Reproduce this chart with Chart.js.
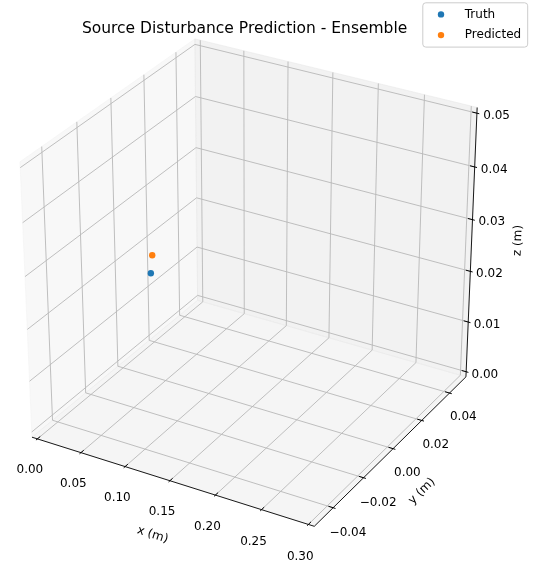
<!DOCTYPE html>
<html lang="en">
<head>
<meta charset="UTF-8">
<title>Source Disturbance Prediction - Ensemble</title>
<script src="https://cdn.jsdelivr.net/npm/chart.js@4"></script>
<style>
  html, body { margin: 0; padding: 0; background: #ffffff; }
  #chart { display: block; }
</style>
</head>
<body>
<canvas id="chart" width="539" height="569"></canvas>
<script>
// ---- data (metres) ----
const seriesLabels = ['Truth', 'Predicted'];
const seriesColors = ['#1f77b4', '#ff7f0e'];
const truthXYZ = [0.035, 0.000, 0.0196];
const predictedXYZ = [0.037, 0.000, 0.0232];

const xLimits = [0.0, 0.3];
const yLimits = [-0.05, 0.05];
const zLimits = [0.0, 0.05];
const xTicks = [0.00, 0.05, 0.10, 0.15, 0.20, 0.25, 0.30];
const yTicks = [-0.04, -0.02, 0.00, 0.02, 0.04];
const zTicks = [0.00, 0.01, 0.02, 0.03, 0.04, 0.05];
const xTickLabels = ['0.00', '0.05', '0.10', '0.15', '0.20', '0.25', '0.30'];
const yTickLabels = ['\u22120.04', '\u22120.02', '0.00', '0.02', '0.04'];
const zTickLabels = ['0.00', '0.01', '0.02', '0.03', '0.04', '0.05'];
const axisTitles = ['x (m)', 'y (m)', 'z (m)'];
const chartTitle = 'Source Disturbance Prediction - Ensemble';

// ---- 3d view, same maths as matplotlib's mplot3d ----
const ELEV = 30, AZIM = -60, DIST = 10;
const PAD = 1 / 48;            // box is padded by range/48 on every side
const LO = -PAD, HI = 1 + PAD;
const TICK = 1 / 12;

const el = ELEV * Math.PI / 180, az = AZIM * Math.PI / 180;
const nVec = [Math.cos(el) * Math.cos(az), Math.cos(el) * Math.sin(az), Math.sin(el)];
const uLen = Math.hypot(nVec[0], nVec[1]);
const uVec = [-nVec[1] / uLen, nVec[0] / uLen, 0];
const vVec = [
  nVec[1] * uVec[2] - nVec[2] * uVec[1],
  nVec[2] * uVec[0] - nVec[0] * uVec[2],
  nVec[0] * uVec[1] - nVec[1] * uVec[0]
];
const dot = (a, b) => a[0] * b[0] + a[1] * b[1] + a[2] * b[2];

function project(p) {
  const q = [p[0] - 0.5, p[1] - 0.5, p[2] - 0.5];
  const w = DIST - dot(nVec, q);
  return { x: dot(uVec, q) / w, y: dot(vVec, q) / w };
}

function toUnit(v, lim) { return (v - lim[0]) / (lim[1] - lim[0]); }
function norm3(p) { return [toUnit(p[0], xLimits), toUnit(p[1], yLimits), toUnit(p[2], zLimits)]; }

// 2d view window of the projected scene
const viewX = [-0.079677, 0.090575];
const viewY = [-0.096749, 0.089741];

const FONT = '"DejaVu Sans", sans-serif';

const axes3d = {
  id: 'axes3d',
  beforeDatasetsDraw(chart) {
    const ctx = chart.ctx;
    const sx = chart.scales.x, sy = chart.scales.y;
    const px = p => {
      const v = project(p);
      return [sx.getPixelForValue(v.x), sy.getPixelForValue(v.y)];
    };
    const path = pts => {
      ctx.beginPath();
      pts.forEach((p, i) => {
        const [X, Y] = px(p);
        if (i) ctx.lineTo(X, Y); else ctx.moveTo(X, Y);
      });
    };
    ctx.save();

    // panes
    const panes = [
      { pts: [[LO, LO, LO], [LO, HI, LO], [LO, HI, HI], [LO, LO, HI]], c: 'rgba(242,242,242,0.5)' },
      { pts: [[LO, HI, LO], [HI, HI, LO], [HI, HI, HI], [LO, HI, HI]], c: 'rgba(230,230,230,0.5)' },
      { pts: [[LO, LO, LO], [HI, LO, LO], [HI, HI, LO], [LO, HI, LO]], c: 'rgba(236,236,236,0.5)' }
    ];
    panes.forEach(pn => {
      path(pn.pts);
      ctx.closePath();
      ctx.fillStyle = pn.c;
      ctx.fill();
      ctx.strokeStyle = pn.c;
      ctx.lineWidth = 1;
      ctx.stroke();
    });

    // grid
    ctx.strokeStyle = '#b8b8b8';
    ctx.lineWidth = 0.9;
    ctx.lineJoin = 'round';
    xTicks.forEach(t => {
      const x = toUnit(t, xLimits);
      path([[x, LO, LO], [x, HI, LO], [x, HI, HI]]); ctx.stroke();
    });
    yTicks.forEach(t => {
      const y = toUnit(t, yLimits);
      path([[HI, y, LO], [LO, y, LO], [LO, y, HI]]); ctx.stroke();
    });
    zTicks.forEach(t => {
      const z = toUnit(t, zLimits);
      path([[LO, LO, z], [LO, HI, z], [HI, HI, z]]); ctx.stroke();
    });

    // axis lines
    ctx.strokeStyle = '#000';
    ctx.lineWidth = 0.9;
    path([[LO, LO, LO], [HI, LO, LO]]); ctx.stroke();
    path([[HI, LO, LO], [HI, HI, LO]]); ctx.stroke();
    path([[HI, HI, LO], [HI, HI, HI]]); ctx.stroke();

    // tick marks
    ctx.lineWidth = 1;
    xTicks.forEach(t => {
      const x = toUnit(t, xLimits);
      path([[x, LO - 0.1 * TICK, LO], [x, LO + 0.2 * TICK, LO]]); ctx.stroke();
    });
    yTicks.forEach(t => {
      const y = toUnit(t, yLimits);
      path([[HI + 0.1 * TICK, y, LO], [HI - 0.2 * TICK, y, LO]]); ctx.stroke();
    });
    zTicks.forEach(t => {
      const z = toUnit(t, zLimits);
      path([[HI + 0.1 * TICK, HI, z], [HI - 0.2 * TICK, HI, z]]); ctx.stroke();
    });

    // tick labels
    ctx.fillStyle = '#000';
    ctx.font = '12px ' + FONT;
    ctx.textAlign = 'center';
    ctx.textBaseline = 'middle';
    const text = (s, p) => { const [X, Y] = px(p); ctx.fillText(s, X, Y); };
    xTicks.forEach((t, i) => text(xTickLabels[i], [toUnit(t, xLimits), LO - 0.05, LO - 0.095]));
    yTicks.forEach((t, i) => text(yTickLabels[i], [HI + 0.054, toUnit(t, yLimits), LO - 0.08]));
    zTicks.forEach((t, i) => text(zTickLabels[i], [HI + 0.062, HI + 0.015, toUnit(t, zLimits)]));

    // axis titles, rotated along their axis
    const rotText = (s, p, a0, a1) => {
      const [X, Y] = px(p);
      const [ax0, ay0] = px(a0), [ax1, ay1] = px(a1);
      let ang = Math.atan2(ay1 - ay0, ax1 - ax0);
      if (ang > Math.PI / 2) ang -= Math.PI;
      if (ang <= -Math.PI / 2) ang += Math.PI;
      ctx.save();
      ctx.translate(X, Y);
      ctx.rotate(ang);
      ctx.fillText(s, 0, 0);
      ctx.restore();
    };
    rotText(axisTitles[0], [0.5, LO - 0.109, LO - 0.149], [LO, LO, LO], [HI, LO, LO]);
    rotText(axisTitles[1], [HI + 0.108, 0.5, LO - 0.134], [HI, LO, LO], [HI, HI, LO]);
    rotText(axisTitles[2], [HI + 0.116, HI + 0.107, 0.5], [HI, HI, LO], [HI, HI, HI]);

    ctx.restore();
  },
  afterDraw(chart) {
    const ctx = chart.ctx;
    ctx.save();
    // title
    ctx.fillStyle = '#000';
    ctx.font = '15.5px ' + FONT;
    ctx.textAlign = 'center';
    ctx.textBaseline = 'middle';
    ctx.fillText(chartTitle, 244.6, 29);

    // legend
    const bx = 422.8, by = 2.8, bw = 104.9, bh = 44.3;
    ctx.beginPath();
    ctx.roundRect(bx, by, bw, bh, 3);
    ctx.fillStyle = 'rgba(255,255,255,0.8)';
    ctx.fill();
    ctx.strokeStyle = '#cccccc';
    ctx.lineWidth = 1;
    ctx.stroke();
    ctx.font = '12px ' + FONT;
    ctx.textAlign = 'left';
    chart.data.datasets.forEach((ds, i) => {
      const y = 14.4 + i * 20.7;
      ctx.beginPath();
      ctx.arc(441, y, 3.2, 0, Math.PI * 2);
      ctx.fillStyle = ds.backgroundColor;
      ctx.fill();
      ctx.fillStyle = '#000';
      ctx.fillText(ds.label, 464.8, y);
    });
    ctx.restore();
  }
};

const points3d = [truthXYZ, predictedXYZ];

new Chart(document.getElementById('chart'), {
  type: 'scatter',
  data: {
    datasets: seriesLabels.map((label, i) => ({
      label: label,
      data: [project(norm3(points3d[i]))],
      backgroundColor: seriesColors[i],
      borderColor: seriesColors[i],
      borderWidth: 0,
      pointRadius: 3.2,
      pointHoverRadius: 3.2
    }))
  },
  options: {
    responsive: false,
    animation: false,
    events: [],
    devicePixelRatio: 1,
    layout: { padding: 0 },
    scales: {
      x: { type: 'linear', min: viewX[0], max: viewX[1], display: false },
      y: { type: 'linear', min: viewY[0], max: viewY[1], display: false }
    },
    plugins: {
      legend: { display: false },
      tooltip: { enabled: false }
    }
  },
  plugins: [axes3d]
});
</script>
</body>
</html>
